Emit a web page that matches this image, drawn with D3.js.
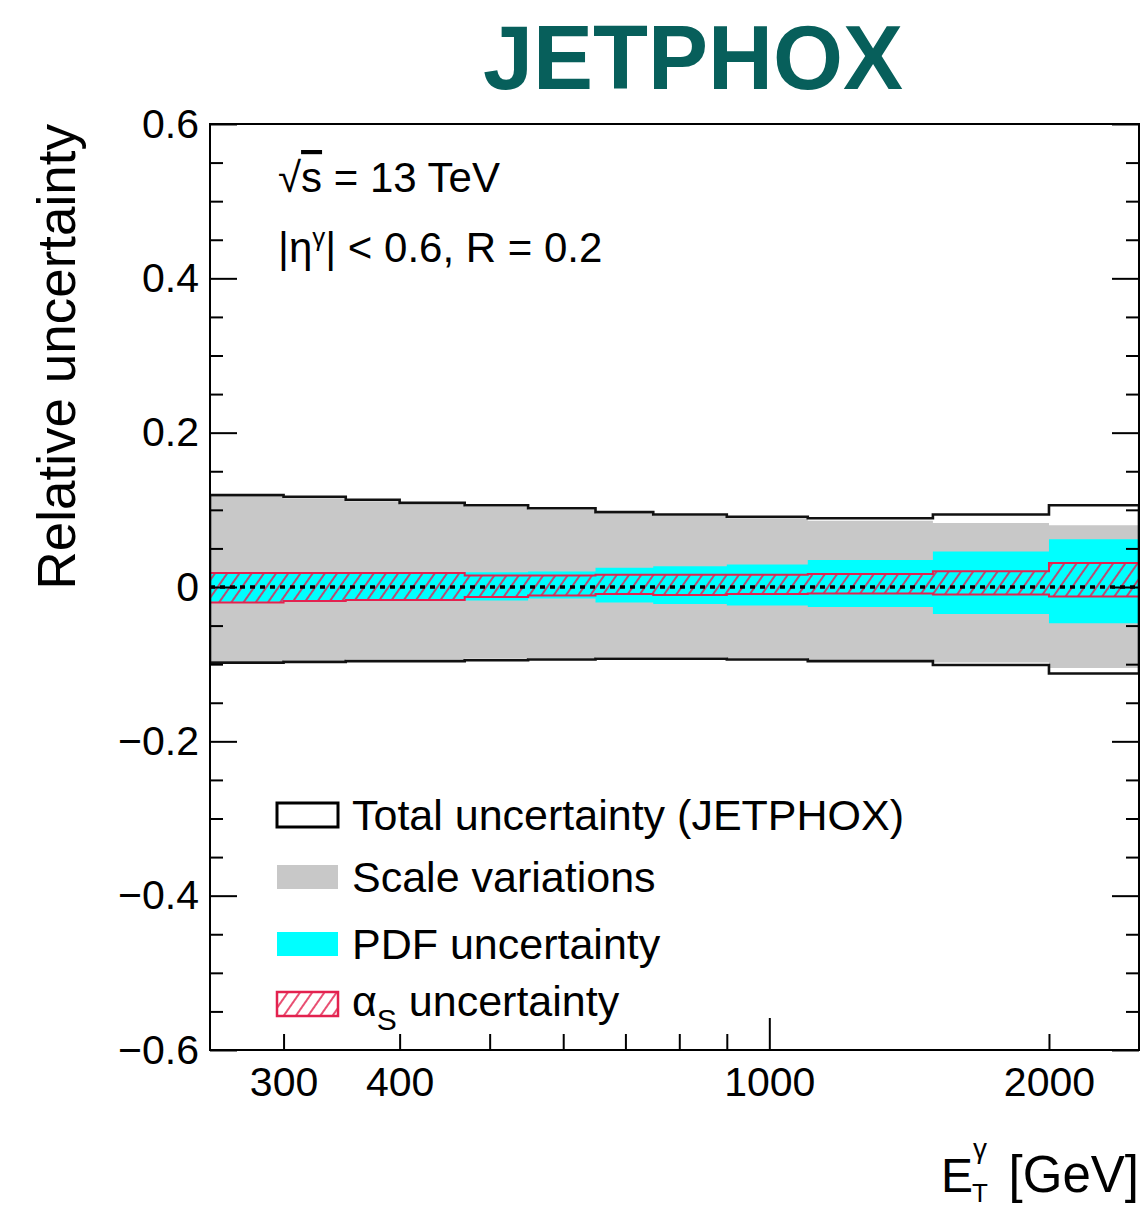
<!DOCTYPE html>
<html>
<head>
<meta charset="utf-8">
<script src="https://cdn.jsdelivr.net/npm/d3@7"></script>
<style>
  body { margin: 0; background: #fff; }
  text { font-family: "Liberation Sans", Arial, Helvetica, sans-serif; }
</style>
</head>
<body>
<div id="chart"></div>
<script>
// Bin edges in E_T^gamma [GeV]
const binEdges = [250, 300, 350, 400, 470, 550, 650, 750, 900, 1100, 1500, 2000, 2500];

// Relative uncertainties per bin
const totalUp   = [0.119, 0.117, 0.113, 0.109, 0.106, 0.102, 0.097, 0.094, 0.091, 0.089, 0.094, 0.106];
const totalDown = [-0.098, -0.097, -0.096, -0.096, -0.095, -0.094, -0.093, -0.093, -0.094, -0.096, -0.101, -0.112];
const scaleUp   = [0.117, 0.115, 0.111, 0.107, 0.104, 0.100, 0.095, 0.092, 0.089, 0.086, 0.083, 0.080];
const scaleDown = [-0.096, -0.095, -0.094, -0.094, -0.093, -0.092, -0.091, -0.091, -0.092, -0.095, -0.098, -0.105];
const pdfUp     = [0.017, 0.017, 0.017, 0.019, 0.019, 0.020, 0.025, 0.027, 0.029, 0.035, 0.046, 0.062];
const pdfDown   = [-0.019, -0.017, -0.016, -0.017, -0.0175, -0.015, -0.020, -0.022, -0.024, -0.026, -0.035, -0.047];
const asUp      = [0.018, 0.018, 0.018, 0.018, 0.015, 0.015, 0.016, 0.016, 0.016, 0.017, 0.0205, 0.031];
const asDown    = [-0.020, -0.018, -0.017, -0.017, -0.013, -0.011, -0.009, -0.0105, -0.009, -0.0085, -0.0097, -0.0123];

// Axis ticks
const yMajor = [-0.6, -0.4, -0.2, 0, 0.2, 0.4, 0.6];
const yMinor = [-0.55, -0.5, -0.45, -0.35, -0.3, -0.25, -0.15, -0.1, -0.05,
                0.05, 0.1, 0.15, 0.25, 0.3, 0.35, 0.45, 0.5, 0.55];
const xMajor = [1000];
const xMinor = [300, 400, 500, 600, 700, 800, 900, 2000];
const xLabelled = [300, 400, 1000, 2000];

const legendLabels = ["Total uncertainty (JETPHOX)", "Scale variations", "PDF uncertainty", "uncertainty"];

const width = 1142, height = 1210;
const plot = { left: 210, right: 1139, top: 124, bottom: 1050 };
const RED = "#e3224f", GREY = "#c8c8c8", CYAN = "#00ffff";

const svg = d3.select("#chart").append("svg")
    .attr("width", width)
    .attr("height", height);

const defs = svg.append("defs");
defs.append("clipPath").attr("id", "plot-clip")
    .append("rect")
    .attr("x", plot.left).attr("y", plot.top)
    .attr("width", plot.right - plot.left).attr("height", plot.bottom - plot.top);

const hatch = defs.append("pattern")
    .attr("id", "hatch")
    .attr("patternUnits", "userSpaceOnUse")
    .attr("width", 10).attr("height", 10)
    .attr("patternTransform", "rotate(35)");
hatch.append("line")
    .attr("x1", 5).attr("y1", 0).attr("x2", 5).attr("y2", 10)
    .attr("stroke", RED).attr("stroke-width", 1.6);

const x = d3.scaleLog().domain([250, 2500]).range([plot.left, plot.right]);
const y = d3.scaleLinear().domain([-0.6, 0.6]).range([plot.bottom, plot.top]);

// turn per-bin values into step points
function steps(lo, hi) {
    return binEdges.slice(0, -1).flatMap((e, i) => [
        { x: e, lo: lo[i], hi: hi[i] },
        { x: binEdges[i + 1], lo: lo[i], hi: hi[i] }
    ]);
}

const area = d3.area()
    .x(d => x(d.x))
    .y0(d => y(d.lo))
    .y1(d => y(d.hi));

const bands = svg.append("g").attr("clip-path", "url(#plot-clip)");

bands.append("path")
    .attr("d", area(steps(scaleDown, scaleUp)))
    .attr("fill", GREY);

bands.append("path")
    .attr("d", area(steps(pdfDown, pdfUp)))
    .attr("fill", CYAN);

bands.append("path")
    .attr("d", area(steps(asDown, asUp)))
    .attr("fill", "url(#hatch)")
    .attr("stroke", RED)
    .attr("stroke-width", 2);

bands.append("line")
    .attr("x1", plot.left).attr("x2", plot.right)
    .attr("y1", y(0)).attr("y2", y(0))
    .attr("stroke", "#000")
    .attr("stroke-width", 3.5)
    .attr("stroke-dasharray", "5,5");

bands.append("path")
    .attr("d", area(steps(totalDown, totalUp)))
    .attr("fill", "none")
    .attr("stroke", "#111")
    .attr("stroke-width", 2.6);

// axes
const fmtY = d => d === 0 ? "0" : d3.format(".1f")(d);

function styleAxis(g) {
    g.select(".domain").remove();
    g.selectAll(".tick line").attr("stroke", "#000").attr("stroke-width", 2);
    g.selectAll(".tick text").style("font-size", "41px").style("fill", "#000");
}

svg.append("g").attr("transform", `translate(${plot.left},0)`)
    .call(d3.axisLeft(y).tickValues(yMajor).tickSizeInner(-27).tickSizeOuter(0).tickPadding(11).tickFormat(fmtY))
    .call(styleAxis);
svg.append("g").attr("transform", `translate(${plot.left},0)`)
    .call(d3.axisLeft(y).tickValues(yMinor).tickSizeInner(-13).tickSizeOuter(0).tickFormat(""))
    .call(styleAxis);
svg.append("g").attr("transform", `translate(${plot.right},0)`)
    .call(d3.axisRight(y).tickValues(yMajor).tickSizeInner(-27).tickSizeOuter(0).tickFormat(""))
    .call(styleAxis);
svg.append("g").attr("transform", `translate(${plot.right},0)`)
    .call(d3.axisRight(y).tickValues(yMinor).tickSizeInner(-13).tickSizeOuter(0).tickFormat(""))
    .call(styleAxis);

const fmtX = d => xLabelled.includes(d) ? String(d) : "";
svg.append("g").attr("transform", `translate(0,${plot.bottom})`)
    .call(d3.axisBottom(x).tickValues(xMinor).tickSizeInner(-16).tickSizeOuter(0).tickPadding(17).tickFormat(fmtX))
    .call(styleAxis);
svg.append("g").attr("transform", `translate(0,${plot.bottom})`)
    .call(d3.axisBottom(x).tickValues(xMajor).tickSizeInner(-32).tickSizeOuter(0).tickPadding(17).tickFormat(fmtX))
    .call(styleAxis);

// frame
svg.append("rect")
    .attr("x", plot.left).attr("y", plot.top)
    .attr("width", plot.right - plot.left).attr("height", plot.bottom - plot.top)
    .attr("fill", "none").attr("stroke", "#000").attr("stroke-width", 2);

// title
svg.append("text")
    .attr("x", 693).attr("y", 89)
    .attr("text-anchor", "middle")
    .style("font-size", "90px").style("font-weight", "bold")
    .style("fill", "#075f5b")
    .text("JETPHOX");

// y axis title
svg.append("text")
    .attr("transform", `translate(75,${plot.top}) rotate(-90)`)
    .attr("text-anchor", "end")
    .style("font-size", "53px")
    .text("Relative uncertainty");

// x axis title
const xt = svg.append("g");
xt.append("text").attr("x", 941).attr("y", 1192).style("font-size", "48px").text("E");
xt.append("text").attr("x", 973).attr("y", 1158).style("font-size", "28px").text("γ");
xt.append("text").attr("x", 972).attr("y", 1202).style("font-size", "26px").text("T");
xt.append("text").attr("x", plot.right).attr("y", 1192).attr("text-anchor", "end")
    .style("font-size", "51px").text("[GeV]");

// annotations
const a1 = svg.append("text").attr("x", 278).attr("y", 192).style("font-size", "42px");
a1.append("tspan").text("√");
a1.append("tspan").style("text-decoration", "overline").text("s");
a1.append("tspan").text(" = 13 TeV");

const a2 = svg.append("text").attr("x", 278).attr("y", 262).style("font-size", "42px");
a2.append("tspan").text("|η");
a2.append("tspan").attr("dy", -16).style("font-size", "26px").text("γ");
a2.append("tspan").attr("dy", 16).text("| < 0.6, R = 0.2");

// legend
const legendY = [815, 877, 944, 1004];
const boxX = 277, boxW = 61, boxH = 24, textX = 352;
const leg = svg.append("g");

leg.append("rect").attr("x", boxX).attr("y", legendY[0] - boxH / 2).attr("width", boxW).attr("height", boxH)
    .attr("fill", "#fff").attr("stroke", "#000").attr("stroke-width", 3);
leg.append("rect").attr("x", boxX).attr("y", legendY[1] - boxH / 2).attr("width", boxW).attr("height", boxH)
    .attr("fill", GREY);
leg.append("rect").attr("x", boxX).attr("y", legendY[2] - boxH / 2).attr("width", boxW).attr("height", boxH)
    .attr("fill", CYAN);
leg.append("rect").attr("x", boxX).attr("y", legendY[3] - boxH / 2).attr("width", boxW).attr("height", boxH)
    .attr("fill", "url(#hatch)").attr("stroke", RED).attr("stroke-width", 2.5);

legendLabels.slice(0, 3).forEach((lab, i) => {
    leg.append("text").attr("x", textX).attr("y", legendY[i] + 15)
        .style("font-size", "43px").text(lab);
});
const la = leg.append("text").attr("x", textX).attr("y", legendY[3] + 12).style("font-size", "43px");
la.append("tspan").text("α");
la.append("tspan").attr("dy", 14).style("font-size", "30px").text("S");
la.append("tspan").attr("dy", -14).text(" " + legendLabels[3]);
</script>
</body>
</html>
